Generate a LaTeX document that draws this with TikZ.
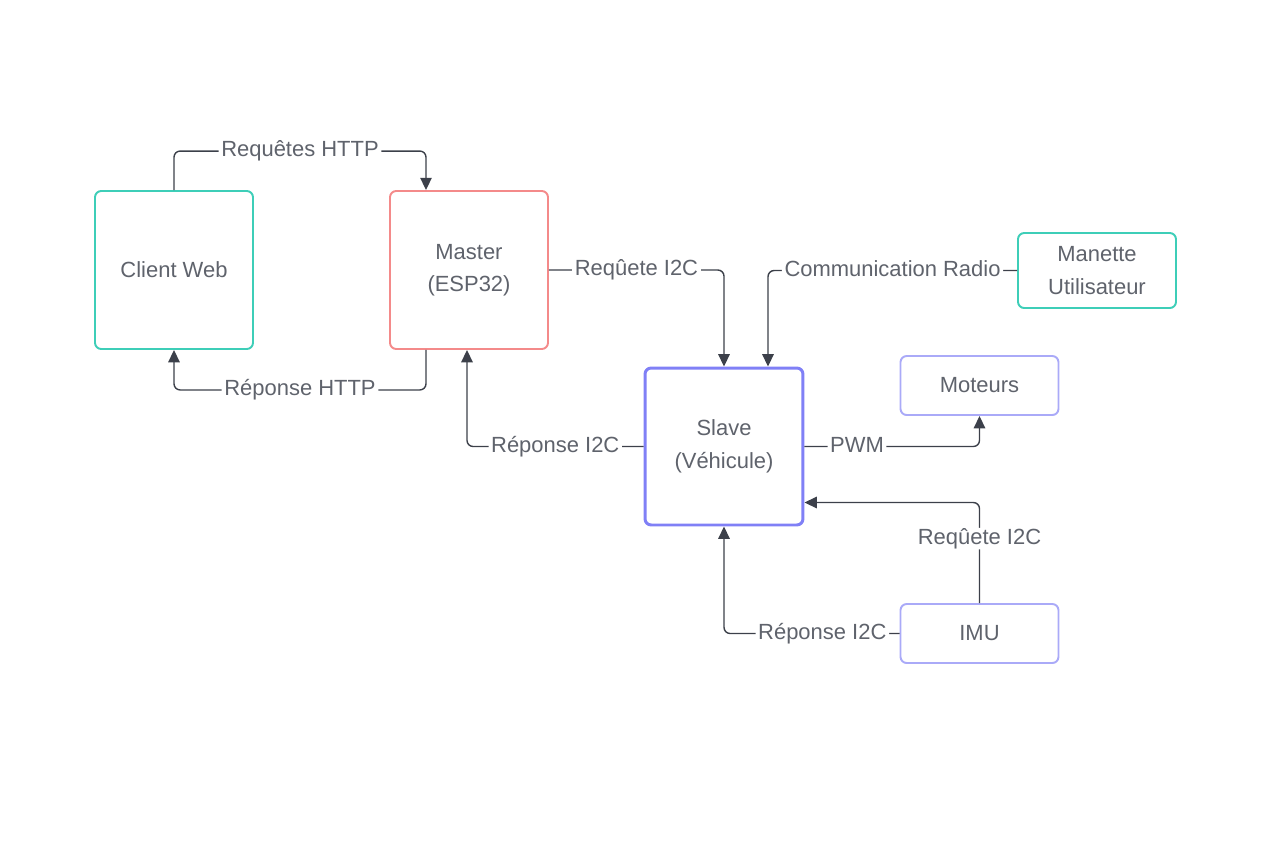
\documentclass[tikz,border=0pt]{standalone}
\usepackage{fontspec}
\setmainfont{Liberation Sans}
\usepackage{xcolor}
\usetikzlibrary{arrows.meta,calc}

\definecolor{txtgray}{RGB}{95,99,108}
\definecolor{linegray}{RGB}{60,64,74}
\definecolor{tealbox}{RGB}{62,206,184}
\definecolor{redbox}{RGB}{244,138,138}
\definecolor{bluebox}{RGB}{128,128,246}
\definecolor{lilacbox}{RGB}{170,170,248}

\tikzset{
	box/.style = {draw, rounded corners=3.5pt, line width=1.1pt, fill=white,
		text=txtgray, align=center, inner sep=0pt,
		minimum width=3.16cm, font=\fontsize{12.5}{18.5}\selectfont},
	link/.style = {draw=linegray, line width=0.8pt, rounded corners=3.5pt,
		-{Triangle[length=7pt,width=6.5pt]}},
	lbl/.style = {fill=white, text=txtgray, inner sep=1.5pt,
		text height=1.5ex, text depth=0.25ex,
		font=\fontsize{12.5}{15}\selectfont}
}

\begin{document}
\begin{tikzpicture}[x=0.02cm, y=-0.02cm]
	%\draw[help lines] (0,0) grid (1282,840);
	\useasboundingbox (0,0) rectangle (1282,840);
	
	\node[box, draw=tealbox, minimum height=3.16cm] (client) at (174,270) {Client Web};
	\node[box, draw=redbox, minimum height=3.16cm] (master) at (469,270) {Master\\(ESP32)};
	\node[box, draw=tealbox, minimum height=1.5cm] (manette) at (1097,270.5) {Manette\\Utilisateur};
	\node[box, draw=bluebox, line width=1.7pt, minimum height=3.14cm] (slave) at (724,446.5) {Slave\\(Véhicule)};
	\node[box, draw=lilacbox, minimum height=1.18cm] (moteurs) at (979.5,385.5) {Moteurs};
	\node[box, draw=lilacbox, minimum height=1.18cm] (imu) at (979.5,633.5) {IMU};
	
	% web
	\draw[link] (client.north) -- ++(0,-39) -| node[lbl, pos=0.25] {Requêtes HTTP} ($(master.north)+(-43,0)$);
	\draw[link] ($(master.south)+(-43,0)$) -- ++(0,40) -| node[lbl, pos=0.25] {Réponse HTTP} (client.south);
	
	% i2c / radio
	\draw[link] (master.east) -| node[lbl, pos=0.25] {Reqûete I2C} (slave.north);
	\draw[link] (manette.west) -| node[lbl, pos=0.25] {Communication Radio} ($(slave.north)+(44,0)$);
	\draw[link] (slave.west) -| node[lbl, pos=0.25] {Réponse I2C} ($(master.south)+(-2,0)$);
	\draw[link] (slave.east) -| node[lbl, pos=0.15] {PWM} (moteurs.south);
	\draw[link] (imu.north) |- node[lbl, pos=0.32] {Reqûete I2C} ($(slave.east)+(0,56)$);
	\draw[link] (imu.west) -| node[lbl, pos=0.22] {Réponse I2C} (slave.south);
\end{tikzpicture}
\end{document}
